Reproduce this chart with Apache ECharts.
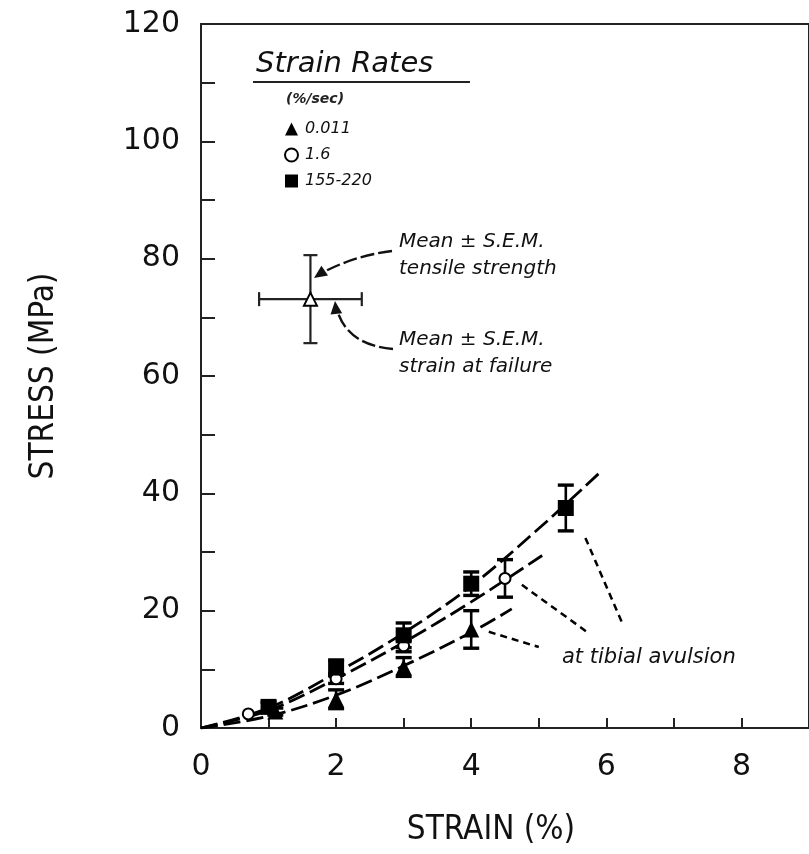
<!DOCTYPE html>
<html><head><meta charset="utf-8">
<script src="https://cdn.jsdelivr.net/npm/echarts@6/dist/echarts.min.js"></script>
<style>html,body{margin:0;padding:0;background:#fff}#c{width:809px;height:854px}</style>
</head><body><div id="c"></div>
<script>
// ---- data (strain %, stress MPa) ----
const strainTri = [1.1, 2.0, 3.0, 4.0];
const stressTri = [2.8, 4.9, 10.4, 16.8];
const semTri    = [0.6, 1.6, 1.6, 3.2];

const strainCirc = [0.7, 2.0, 3.0, 4.5];
const stressCirc = [2.4, 8.4, 14.0, 25.5];
const semCirc    = [0.0, 0.8, 1.0, 3.2];

const strainSq = [1.0, 2.0, 3.0, 4.0, 5.4];
const stressSq = [3.6, 10.3, 15.8, 24.6, 37.5];
const semSq    = [0.8, 1.3, 2.1, 2.0, 3.9];

const fitSqX = [0, 1, 2, 3, 4, 5, 5.9];
const fitSqY = [0, 3.4, 9.4, 16.2, 24.2, 34.0, 43.5];
const fitCiX = [0, 1, 2, 3, 4, 5.05];
const fitCiY = [0, 3.0, 8.4, 14.6, 21.5, 29.4];
const fitTrX = [0, 1, 2, 3, 4, 4.6];
const fitTrY = [0, 2.0, 5.6, 10.6, 16.3, 20.3];

// mean ± SEM at failure: [strain, stress, sem strain, sem stress]
const failure = [1.62, 73.1, 0.76, 7.5];

const rateNames = ['0.011', '1.6', '155-220'];
const xTicks = [0, 2, 4, 6, 8];
const yTicks = [0, 20, 40, 60, 80, 100, 120];

// pointer lines to "at tibial avulsion"
const pointers = [
  [[5.69, 32.4], [6.25, 17.5]],
  [[4.75, 24.4], [5.71, 16.4]],
  [[4.26, 16.4], [5.00, 13.8]]
];

const zip = (a, b, c) => a.map((v, i) => c ? [v, b[i], c[i]] : [v, b[i]]);

const chart = echarts.init(document.getElementById('c'));
const italic = 'DejaVu Sans';
const DASH = [17, 6];

function errRender(params, api) {
  const x = api.value(0), y = api.value(1), e = api.value(2);
  if (!e) return null;
  const t = api.coord([x, y + e]), b = api.coord([x, y - e]);
  const w = 8;
  const st = {stroke: '#000', lineWidth: 2.6};
  return {type: 'group', children: [
    {type: 'line', shape: {x1: t[0], y1: t[1], x2: b[0], y2: b[1]}, style: st},
    {type: 'line', shape: {x1: t[0] - w, y1: t[1], x2: t[0] + w, y2: t[1]}, style: {stroke: '#000', lineWidth: 3.4}},
    {type: 'line', shape: {x1: b[0] - w, y1: b[1], x2: b[0] + w, y2: b[1]}, style: {stroke: '#000', lineWidth: 3.4}}
  ]};
}
function crossRender(params, api) {
  const x = api.value(0), y = api.value(1), ex = api.value(2), ey = api.value(3);
  const t = api.coord([x, y + ey]), b = api.coord([x, y - ey]);
  const l = api.coord([x - ex, y]), r = api.coord([x + ex, y]);
  const w = 7, st = {stroke: '#222', lineWidth: 2.2};
  return {type: 'group', children: [
    {type: 'line', shape: {x1: t[0], y1: t[1], x2: b[0], y2: b[1]}, style: st},
    {type: 'line', shape: {x1: l[0], y1: l[1], x2: r[0], y2: r[1]}, style: st},
    {type: 'line', shape: {x1: t[0] - w, y1: t[1], x2: t[0] + w, y2: t[1]}, style: st},
    {type: 'line', shape: {x1: b[0] - w, y1: b[1], x2: b[0] + w, y2: b[1]}, style: st},
    {type: 'line', shape: {x1: l[0], y1: l[1] - w, x2: l[0], y2: l[1] + w}, style: st},
    {type: 'line', shape: {x1: r[0], y1: r[1] - w, x2: r[0], y2: r[1] + w}, style: st}
  ]};
}

function arrowHead(x, y, fromX, fromY, size) {
  const a = Math.atan2(y - fromY, x - fromX);
  const s = size, h = size * 0.45;
  const bx = x - s * Math.cos(a), by = y - s * Math.sin(a);
  return {type: 'polygon', shape: {points: [[x, y],
    [bx + h * Math.sin(a), by - h * Math.cos(a)],
    [bx - h * Math.sin(a), by + h * Math.cos(a)]]}, style: {fill: '#111'}};
}

const option = {
  animation: false,
  backgroundColor: '#fff',
  grid: {left: 201, top: 24, width: 611, bottom: 126, show: true, borderColor: '#222', borderWidth: 2, backgroundColor: 'transparent'},
  xAxis: {
    type: 'value', min: 0, max: 9, interval: 1,
    axisLine: {show: true, lineStyle: {color: '#222', width: 2}},
    axisTick: {show: true, inside: true, length: 10, lineStyle: {color: '#222', width: 2}},
    splitLine: {show: false},
    axisLabel: {margin: 24, fontFamily: 'DejaVu Sans', fontSize: 30, color: '#111',
      formatter: v => xTicks.includes(v) ? String(v) : '', showMaxLabel: false},
    name: 'STRAIN (%)', nameLocation: 'middle', nameGap: 86,
    nameTextStyle: {fontFamily: 'DejaVu Sans Condensed', fontSize: 33, color: '#111', padding: [0, 28, 0, 0]}
  },
  yAxis: {
    type: 'value', min: 0, max: 120, interval: 10,
    axisLine: {show: true, lineStyle: {color: '#222', width: 2}},
    axisTick: {show: true, inside: true, length: 14, lineStyle: {color: '#222', width: 2}},
    splitLine: {show: false},
    axisLabel: {margin: 21, fontFamily: 'DejaVu Sans', fontSize: 30, color: '#111',
      formatter: v => yTicks.includes(v) ? String(v) : ''},
    name: 'STRESS (MPa)', nameLocation: 'middle', nameGap: 140, nameRotate: 90,
    nameTextStyle: {fontFamily: 'DejaVu Sans Condensed', fontSize: 33, color: '#111'}
  },
  legend: {
    orient: 'vertical', left: 279, top: 116, itemGap: 10, itemWidth: 13, itemHeight: 13,
    data: [
      {name: rateNames[0], icon: 'triangle', itemStyle: {color: '#000', opacity: 1}},
      {name: rateNames[1], icon: 'circle', itemStyle: {color: '#fff', borderColor: '#000', borderWidth: 2, opacity: 1}},
      {name: rateNames[2], icon: 'rect', itemStyle: {color: '#000', opacity: 1}}
    ],
    textStyle: {fontFamily: italic, fontStyle: 'italic', fontSize: 16, color: '#111', padding: [0, 0, 0, 2]},
    selectedMode: false
  },
  series: [
    {type: 'line', data: zip(fitSqX, fitSqY), smooth: 0.35, showSymbol: false, symbol: 'none', silent: true,
      lineStyle: {color: '#000', width: 2.8, type: DASH}, z: 2},
    {type: 'line', data: zip(fitCiX, fitCiY), smooth: 0.35, showSymbol: false, symbol: 'none', silent: true,
      lineStyle: {color: '#000', width: 2.8, type: DASH}, z: 2},
    {type: 'line', data: zip(fitTrX, fitTrY), smooth: 0.35, showSymbol: false, symbol: 'none', silent: true,
      lineStyle: {color: '#000', width: 2.8, type: DASH}, z: 2,
      markLine: {silent: true, symbol: ['none', 'none'], label: {show: false},
        lineStyle: {color: '#000', width: 2.5, type: [7, 5]},
        data: pointers.map(p => [{coord: p[0]}, {coord: p[1]}])}},
    {type: 'custom', renderItem: errRender, data: zip(strainSq, stressSq, semSq), z: 3},
    {type: 'custom', renderItem: errRender, data: zip(strainCirc, stressCirc, semCirc), z: 3},
    {type: 'custom', renderItem: errRender, data: zip(strainTri, stressTri, semTri), z: 3},
    {type: 'custom', renderItem: crossRender, data: [failure], z: 3},
    {name: rateNames[0], type: 'scatter', data: zip(strainTri, stressTri), symbol: 'triangle', symbolSize: 16,
      itemStyle: {color: '#000', opacity: 1}, z: 5},
    {name: rateNames[1], type: 'scatter', data: zip(strainCirc, stressCirc), symbol: 'circle', symbolSize: 11,
      itemStyle: {color: '#fff', borderColor: '#000', borderWidth: 2, opacity: 1}, z: 5},
    {name: rateNames[2], type: 'scatter', data: zip(strainSq, stressSq), symbol: 'rect', symbolSize: 16,
      itemStyle: {color: '#000', opacity: 1}, z: 5},
    {type: 'scatter', data: [[failure[0], failure[1]]], symbol: 'triangle', symbolSize: 13,
      itemStyle: {color: '#fff', borderColor: '#000', borderWidth: 2, opacity: 1}, z: 6}
  ],
  graphic: [
    {type: 'text', left: 256, top: 50, style: {text: 'Strain Rates', font: 'italic 29px "DejaVu Sans"', fill: '#111'}},
    {type: 'line', shape: {x1: 253, y1: 82, x2: 470, y2: 82}, style: {stroke: '#222', lineWidth: 2}},
    {type: 'text', left: 286, top: 92, style: {text: '(%/sec)', font: 'italic bold 14px "DejaVu Sans"', fill: '#222'}},
    {type: 'text', left: 399, top: 228, style: {text: 'Mean ± S.E.M.\ntensile strength', font: 'italic 20px "DejaVu Sans"', fill: '#111', lineHeight: 27}},
    {type: 'text', left: 399, top: 326, style: {text: 'Mean ± S.E.M.\nstrain at failure', font: 'italic 20px "DejaVu Sans"', fill: '#111', lineHeight: 27}},
    {type: 'text', left: 562, top: 647, style: {text: 'at tibial avulsion', font: 'italic 21px "DejaVu Sans"', fill: '#111'}},
    {type: 'bezierCurve', shape: {x1: 392, y1: 251, cpx1: 352, cpy1: 256, x2: 318, y2: 275}, style: {stroke: '#111', lineWidth: 2.4, lineDash: [14, 4], fill: null}},
    arrowHead(314, 278, 330, 267, 13),
    {type: 'bezierCurve', shape: {x1: 393, y1: 349, cpx1: 345, cpy1: 345, x2: 336, y2: 306}, style: {stroke: '#111', lineWidth: 2.4, lineDash: [14, 4], fill: null}},
    arrowHead(335, 301, 337, 320, 13)
  ]
};
chart.setOption(option);
</script>
</body></html>
